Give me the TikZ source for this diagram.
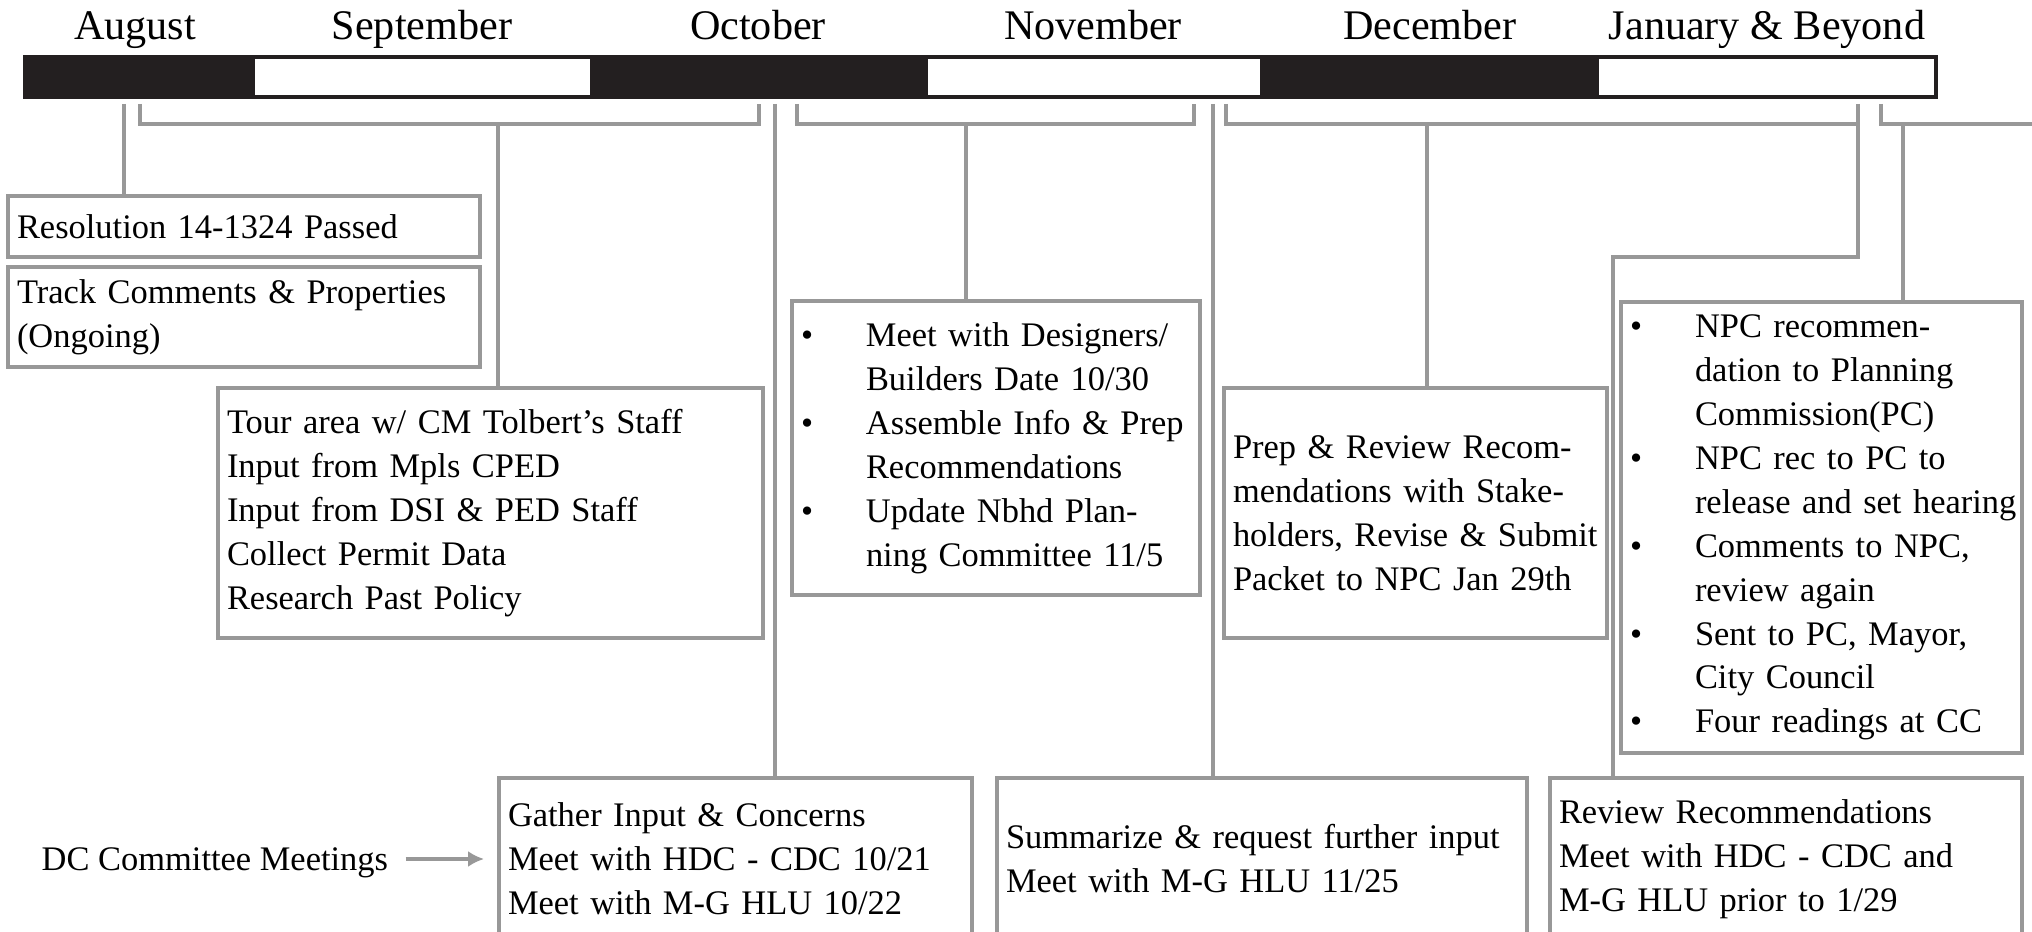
\documentclass[tikz,border=0pt]{standalone}
\usepackage{fontspec}
\setmainfont{Liberation Serif}
\usetikzlibrary{arrows.meta}

\definecolor{linegray}{RGB}{152,152,152}
\definecolor{barblack}{RGB}{35,31,32}
\newcommand{\bul}{\makebox[6.5mm][l]{\textbullet}}
\newcommand{\cont}{\hspace*{6.5mm}}

\tikzset{
	card/.style = {draw = linegray, line width = 1.1pt, fill = white, align = left, inner xsep = 0.9mm, inner ysep = 0.5mm, font = \fontsize{9.8}{12.5}\selectfont},
	link/.style = {linegray, line width = 0.9pt},
	month/.style = {anchor = base, font = \fontsize{12}{14}\selectfont}
}

\begin{document}
\begin{tikzpicture}[x = 0.1mm, y = -0.1mm]
	\useasboundingbox (0,0) rectangle (2032,932);
	\def\bartop{57}
	\def\barbot{97}
	\def\tick{104}
	\def\brace{124}

	% timeline bar
	\foreach \a/\b in {25/255, 590/928, 1260/1599}
		\fill[barblack] (\a,\bartop) rectangle (\b,\barbot);
	\draw[barblack, line width = 0.9pt] (25,\bartop) rectangle (1936,\barbot);

	\foreach \name/\x/\txt in {aug/135/August, sep/422/September, oct/758/October, nov/1093/November, dec/1430/December, jan/1767/January \& Beyond}
		\node[month] (\name) at (\x,40) {\txt};

	% boxes
	\node[card, text width = 45.4mm, minimum height = 6.1mm] (res) at (244,226.5) {Resolution 14-1324 Passed};
	\node[card, text width = 45.4mm, minimum height = 10mm] (track) at (244,317) {Track Comments \& Properties\\(Ongoing)};
	\node[card, text width = 52.7mm, minimum height = 25mm] (tour) at (490.5,513) {Tour area w/ CM Tolbert’s Staff\\Input from Mpls CPED\\Input from DSI \& PED Staff\\Collect Permit Data\\Research Past Policy};
	\node[card, text width = 39mm, minimum height = 29.4mm] (design) at (996,448) {\bul Meet with Designers/\\\cont Builders Date 10/30\\\bul Assemble Info \& Prep\\\cont Recommendations\\\bul Update Nbhd Plan-\\\cont ning Committee 11/5};
	\node[card, text width = 36.5mm, minimum height = 25mm] (prep) at (1415.5,513) {Prep \& Review Recom-\\mendations with Stake-\\\mbox{holders, Revise \& Submit}\\Packet to NPC Jan 29th};
	\node[card, text width = 38.3mm, minimum height = 45.1mm] (npc) at (1821.5,527.5) {\bul NPC recommen-\\\cont dation to Planning\\\cont Commission(PC)\\\bul NPC rec to PC to\\\cont \mbox{release and set hearing}\\\bul Comments to NPC,\\\cont review again\\\bul Sent to PC, Mayor,\\\cont City Council\\\bul Four readings at CC};
	\node[card, text width = 45.5mm, minimum height = 16.2mm] (gather) at (735.5,859) {Gather Input \& Concerns\\Meet with HDC - CDC 10/21\\Meet with M-G HLU 10/22};
	\node[card, text width = 51.2mm, minimum height = 16.2mm] (summ) at (1262,859) {Summarize \& request further input\\Meet with M-G HLU 11/25};
	\node[card, text width = 45.4mm, minimum height = 16.2mm] (review) at (1786,859) {Review Recommendations\\Meet with HDC - CDC and\\M-G HLU prior to 1/29};

	\node[anchor = base west, inner sep = 0, font = \fontsize{9.8}{12.5}\selectfont] (dc) at (41,871) {DC Committee Meetings};
	\draw[link, -{Latex[length = 1.6mm, width = 1.6mm]}, shorten <= 1.7mm, shorten >= 1.3mm] (dc.east |- gather.west) -- (gather.west);

	% connectors
	\coordinate (resTick) at (124,\tick);
	\coordinate (augA) at (140,\tick);
	\coordinate (octA) at (759,\tick);
	\coordinate (gatherTick) at (775,\tick);
	\coordinate (octB) at (797,\tick);
	\coordinate (novB) at (1194,\tick);
	\coordinate (summTick) at (1213,\tick);
	\coordinate (novC) at (1226,\tick);
	\coordinate (janC) at (1858,\tick);
	\coordinate (janD) at (1881,\tick);

	\draw[link] (resTick) -- (resTick |- res.north);
	\draw[link] (augA) |- (octA |- 0,\brace) -- (octA);
	\draw[link] (498,\brace) -- (498,\brace |- tour.north);
	\draw[link] (gatherTick) -- (gatherTick |- gather.north);
	\draw[link] (octB) |- (novB |- 0,\brace) -- (novB);
	\draw[link] (966,\brace) -- (966,\brace |- design.north);
	\draw[link] (summTick) -- (summTick |- summ.north);
	\draw[link] (novC) |- (janC |- 0,\brace);
	\draw[link] (1427,\brace) -- (1427,\brace |- prep.north);
	\draw[link] (janC) |- (1613,257) -- (1613,257 |- review.north);
	\draw[link] (janD) |- (2050,\brace);
	\draw[link] (1903,\brace) -- (1903,\brace |- npc.north);
\end{tikzpicture}
\end{document}
